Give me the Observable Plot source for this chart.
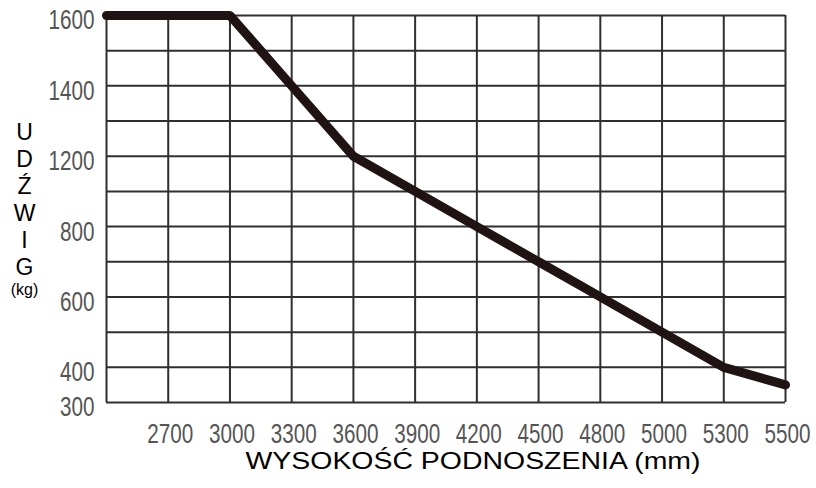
<!DOCTYPE html>
<html><head><meta charset="utf-8">
<script src="https://cdn.jsdelivr.net/npm/d3@7"></script>
<script src="https://cdn.jsdelivr.net/npm/@observablehq/plot@0.6"></script>
<style>body{margin:0;background:#fff}</style>
</head><body><div id="chart"></div>
<script>
// Lift height tick labels (first grid column is unlabeled)
const xTickLabels = ["", "2700", "3000", "3300", "3600", "3900", "4200", "4500", "4800", "5000", "5300", "5500"];
// Load capacity (kg) at each column
const capacityKg = [1600, 1600, 1600, 1400, 1200, 1000, 800, 700, 600, 500, 400, 350];
// Y tick labels (kg)
const yTickLabels = [1600, 1400, 1200, 800, 600, 400, 300];
// The printed y axis is piecewise: 100 kg per row, except 200 kg per row between 800 and 1200
const loadBreaks = [300, 800, 1200, 1600];
const loadRows = [11, 6, 4, 0];
const yTitle = "U\nD\nŹ\nW\nI\nG";
const yUnit = "(kg)";
const xTitle = "WYSOKOŚĆ PODNOSZENIA (mm)";

const loadRow = d3.scaleLinear().domain(loadBreaks).range(loadRows);
const cols = d3.range(xTickLabels.length);
const rows = d3.range(loadRow(300) + 1);
const data = capacityKg.map((v, i) => ({col: i, row: loadRow(v)}));

const gridColor = "#2f2f2f";
const font = "'Liberation Sans', Arial, sans-serif";

const chart = Plot.plot({
  width: 816, height: 488,
  marginLeft: 106, marginRight: 31, marginTop: 15, marginBottom: 86,
  style: {fontFamily: font, background: "#fff"},
  x: {type: "linear", domain: [0, cols.length - 1], axis: null, label: null},
  y: {type: "linear", domain: [rows.length - 1, 0], axis: null, label: null},
  marks: [
    Plot.ruleX(cols, {stroke: gridColor, strokeWidth: 2}),
    Plot.ruleY(rows, {stroke: gridColor, strokeWidth: 2}),
    Plot.line(data, {x: "col", y: "row", stroke: "#1f1313", strokeWidth: 9, strokeLinecap: "round", strokeLinejoin: "round"}),
    Plot.axisX({ticks: cols.slice(1), tickFormat: i => xTickLabels[i], label: null, tickSize: 0, tickPadding: 21, fontSize: 28, fill: "#555", dx: 2}),
    Plot.axisY({ticks: yTickLabels.map(loadRow), tickFormat: r => String(yTickLabels.find(v => loadRow(v) === r)), label: null, tickSize: 0, tickPadding: 12, fontSize: 28, fill: "#555", dy: 5}),
    Plot.text([xTitle], {frameAnchor: "bottom", dy: 66, dx: 27, fontSize: 24, fill: "#000"}),
    Plot.text([yTitle], {frameAnchor: "left", dx: -82, dy: -10, fontSize: 23, lineHeight: 1.17, fill: "#000", textAnchor: "middle"}),
    Plot.text([yUnit], {frameAnchor: "left", dx: -82, dy: 81, fontSize: 16, fill: "#000", textAnchor: "middle"})
  ]
});
document.getElementById("chart").appendChild(chart);

// condensed-looking tick labels and widened title, as in the reference
d3.select(chart).selectAll("text").each(function() {
  const t = this.textContent;
  const s = d3.select(this);
  if (/^\d+$/.test(t)) s.attr("textLength", 11.5 * t.length).attr("lengthAdjust", "spacingAndGlyphs");
  else if (t === xTitle) s.attr("textLength", 455).attr("lengthAdjust", "spacingAndGlyphs");
});
</script>
</body></html>
